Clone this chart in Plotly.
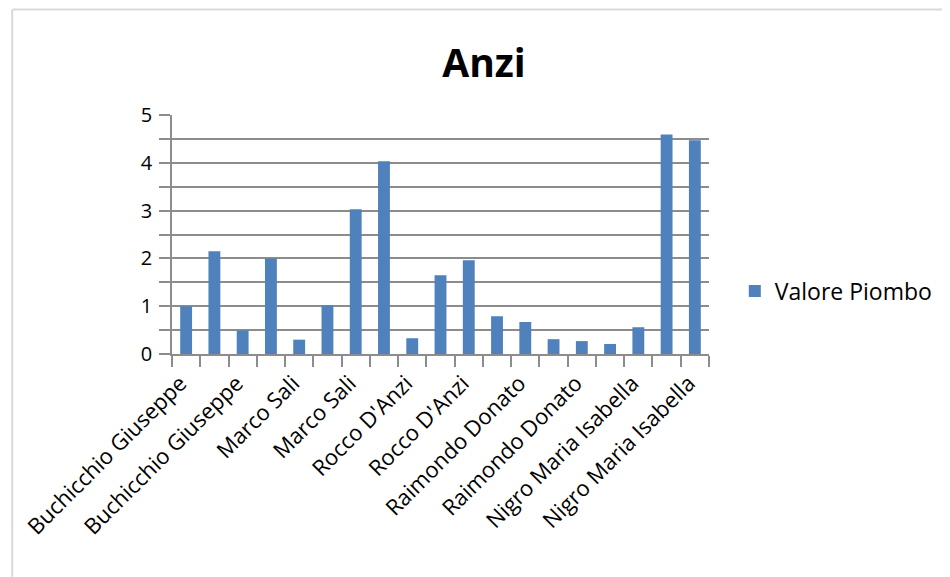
import plotly.graph_objects as go

# Data
valori_piombo = [1.0, 2.15, 0.49, 2.0, 0.3, 1.02, 3.03, 4.03, 0.33, 1.65,
                 1.96, 0.79, 0.67, 0.31, 0.27, 0.21, 0.56, 4.59, 4.47]
etichette = ["Buchicchio Giuseppe", "Buchicchio Giuseppe", "Marco Sali", "Marco Sali",
             "Rocco D'Anzi", "Rocco D'Anzi", "Raimondo Donato", "Raimondo Donato",
             "Nigro Maria Isabella", "Nigro Maria Isabella"]
serie = "Valore Piombo"
titolo = "Anzi"

posizioni = list(range(len(valori_piombo)))
tick_pos = posizioni[::2]

FONT = "Open Sans"
GRID = "#8c8c8c"

# page body has an 8px margin: work in figure coordinates
OFF = 8
W, H = 950 - OFF, 577 - OFF
L, R, T, B = 170 - OFF, 711 - OFF, 114.7 - OFF, 354 - OFF

def px_x(x):
    return (x - OFF - L) / (R - L)

def px_y(y):
    return (B - (y - OFF)) / (B - T)

fig = go.Figure()
fig.add_trace(go.Bar(
    x=posizioni, y=valori_piombo, name=serie,
    marker=dict(color="#4F81BD", line=dict(width=0)),
    width=0.42, showlegend=True,
))

fig.update_layout(
    width=W, height=H, autosize=False,
    margin=dict(l=L, r=W - R, t=T, b=H - B, pad=0),
    paper_bgcolor="white", plot_bgcolor="white",
    font=dict(family=FONT, size=20, color="#000000"),
    title=dict(text="<b>" + titolo + "</b>", x=(484 - OFF) / W, xanchor="center",
               y=1 - (63 - OFF) / H, yanchor="middle", yref="container",
               font=dict(family=FONT, size=39, color="#000000")),
    showlegend=True,
    legend=dict(x=px_x(737), xanchor="left", y=px_y(291), yanchor="middle",
                font=dict(family=FONT, size=23, color="#000000"),
                bgcolor="rgba(0,0,0,0)"),
    bargap=0.58,
)

fig.update_yaxes(
    range=[0, 5], dtick=1, tick0=0,
    showgrid=True, gridcolor=GRID, gridwidth=1.5,
    showline=True, linecolor=GRID, linewidth=1.5,
    ticks="outside", ticklen=11, tickcolor=GRID, tickwidth=1.5,
    ticklabelstandoff=3,
    minor=dict(dtick=0.5, tick0=0, showgrid=True, gridcolor=GRID, gridwidth=1.5,
               ticks="outside", ticklen=11, tickcolor=GRID, tickwidth=1.5),
    zeroline=False,
    tickfont=dict(family=FONT, size=20, color="#000000"),
    fixedrange=True,
)

fig.update_xaxes(
    range=[-0.5, len(valori_piombo) - 0.5],
    tickmode="array", tickvals=tick_pos, ticktext=etichette,
    tickangle=-45, ticks="", showgrid=False,
    showline=True, linecolor=GRID, linewidth=1.5,
    ticklabelshift=-6, ticklabelstandoff=6,
    minor=dict(tick0=-0.5, dtick=1, ticks="outside", ticklen=11,
               tickcolor=GRID, tickwidth=1.5, showgrid=False),
    zeroline=False,
    tickfont=dict(family=FONT, size=22, color="#000000"),
    fixedrange=True,
)

# light chart-area border (top and left edges)
fig.add_shape(type="line", xref="paper", yref="paper",
              x0=px_x(OFF + 1), x1=px_x(950), y0=px_y(OFF + 1), y1=px_y(OFF + 1),
              line=dict(color="#d9d9d9", width=2))
fig.add_shape(type="line", xref="paper", yref="paper",
              x0=px_x(OFF + 1), x1=px_x(OFF + 1), y0=px_y(OFF + 1), y1=px_y(577),
              line=dict(color="#d9d9d9", width=2))

fig.write_html("out.html")
